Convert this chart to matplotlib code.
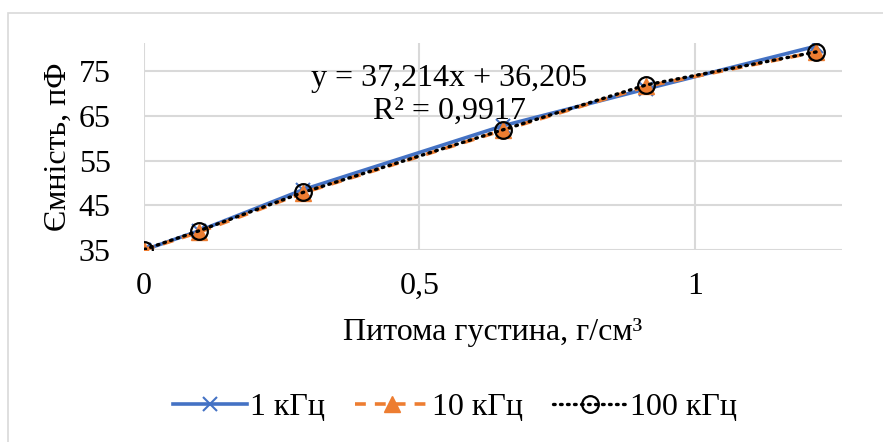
import matplotlib.pyplot as plt
from matplotlib.patches import Rectangle

plt.rcParams['font.family'] = ['Liberation Serif', 'DejaVu Serif']

density = [0.0, 0.1, 0.289, 0.652, 0.911, 1.22]
c_1k = [35.0, 39.3, 48.5, 62.8, 71.0, 80.6]
c_10k = [35.0, 39.0, 47.8, 61.8, 71.6, 79.3]
c_100k = [35.1, 39.3, 47.9, 61.9, 71.9, 79.3]
labels = ['1 кГц', '10 кГц', '100 кГц']
yticks = [35, 45, 55, 65, 75]
xticks = [0, 0.5, 1]
xticklabels = ['0', '0,5', '1']

fs = 23

fig = plt.figure(figsize=(8.83, 4.42), dpi=100)
ax = fig.add_axes([144 / 883, 1 - 250 / 442, (842 - 144) / 883, (250 - 43) / 442])

# light grey chart border (cut off at right and bottom)
fig.patches.append(Rectangle((8 / 883, -0.1), 1.0, 1 - 13 / 442 + 0.1,
                             transform=fig.transFigure, fill=False,
                             edgecolor='#d9d9d9', linewidth=1.2))

ax.plot(density, c_1k, color='#4472c4', lw=2.6, marker='x', ms=10, mew=1.5,
        label=labels[0], zorder=3)
ax.plot(density, c_10k, color='#ed7d31', lw=2.6, ls=(0, (3, 2.5)), marker='^',
        ms=11, label=labels[1], zorder=4)
ax.plot(density, c_100k, color='black', lw=2.4, ls=(0, (0.5, 1.6)),
        dash_capstyle='round', marker='o', ms=12, mfc='none', mec='black',
        mew=1.6, label=labels[2], zorder=5)

ax.set_xlim(0, 1.267)
ax.set_ylim(35, 81.3)
ax.set_xticks(xticks)
ax.set_xticklabels(xticklabels)
ax.set_yticks(yticks)
ax.grid(True, color='#d9d9d9', lw=1.5)
ax.set_axisbelow(True)
for s in ax.spines.values():
    s.set_visible(False)
ax.tick_params(axis='y', length=0, labelsize=fs, pad=24)
ax.tick_params(axis='x', length=0, labelsize=fs, pad=16)

ax.set_ylabel('Ємність, пФ', fontsize=fs, labelpad=4)
ax.set_xlabel('Питома густина, г/см³', fontsize=fs, labelpad=12)

ax.text(0.437, 0.75, 'y = 37,214x + 36,205\nR² = 0,9917', transform=ax.transAxes,
        ha='center', va='center', fontsize=fs, linespacing=1.2, zorder=6)

fig.legend(loc='center', bbox_to_anchor=(455 / 883, 1 - 407 / 442), ncol=3,
           frameon=False, fontsize=fs, handlelength=2.3, columnspacing=0.95,
           handletextpad=0.1)

fig.savefig('out.png', dpi=100)
